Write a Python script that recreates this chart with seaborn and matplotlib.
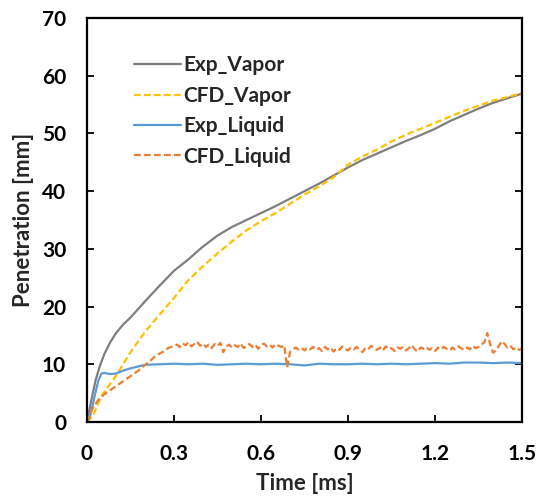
"""
Spray penetration: experiment vs CFD, vapor and liquid.
"""

import numpy as np
import pandas as pd
import matplotlib
matplotlib.use("Agg")
import matplotlib.pyplot as plt
import seaborn as sns

# ---- data ----
t_exp_vapor = [0, 0.01, 0.02, 0.03, 0.045, 0.06, 0.08, 0.1, 0.125, 0.15, 0.175, 0.2,
               0.25, 0.3, 0.35, 0.4, 0.45, 0.5, 0.55, 0.6, 0.65, 0.7, 0.75, 0.8, 0.85,
               0.9, 0.95, 1.0, 1.05, 1.1, 1.15, 1.2, 1.25, 1.3, 1.35, 1.4, 1.45, 1.5]
exp_vapor = [0, 2.5, 5.0, 7.3, 9.8, 11.8, 13.8, 15.4, 16.9, 18.1, 19.5, 20.9,
             23.6, 26.2, 28.2, 30.4, 32.3, 33.8, 35.0, 36.2, 37.4, 38.7, 40.0, 41.3, 42.7,
             44.1, 45.4, 46.5, 47.6, 48.7, 49.7, 50.8, 52.1, 53.2, 54.3, 55.3, 56.1, 56.9]

t_cfd_vapor = [0, 0.02, 0.05, 0.1, 0.15, 0.2, 0.25, 0.3, 0.35, 0.4, 0.45, 0.5, 0.55,
               0.6, 0.65, 0.7, 0.75, 0.8, 0.85, 0.9, 0.95, 1.0, 1.05, 1.1, 1.15, 1.2,
               1.25, 1.3, 1.35, 1.4, 1.45, 1.5]
cfd_vapor = [0, 1.0, 4.5, 8.0, 12.1, 15.6, 18.6, 21.5, 24.6, 27.0, 29.2, 31.3, 33.2,
             34.8, 36.2, 37.8, 39.4, 40.8, 42.4, 44.6, 46.0, 47.2, 48.6, 49.8, 50.8, 51.8,
             52.9, 53.9, 54.8, 55.7, 56.3, 57.0]

t_exp_liquid = [0, 0.01, 0.02, 0.03, 0.04, 0.05, 0.06, 0.08, 0.1, 0.125, 0.15, 0.175,
                0.2, 0.25, 0.3, 0.35, 0.4, 0.45, 0.5, 0.55, 0.6, 0.65, 0.7, 0.75, 0.8,
                0.85, 0.9, 0.95, 1.0, 1.05, 1.1, 1.15, 1.2, 1.25, 1.3, 1.35, 1.4, 1.45, 1.5]
exp_liquid = [0, 0.9, 3.0, 5.3, 7.3, 8.4, 8.5, 8.3, 8.4, 8.9, 9.3, 9.6,
              9.9, 10.0, 10.1, 10.0, 10.1, 9.9, 10.0, 10.1, 10.0, 10.1, 10.0, 9.8, 10.1,
              10.0, 10.0, 10.1, 10.0, 10.1, 10.0, 10.1, 10.2, 10.1, 10.3, 10.3, 10.2, 10.3, 10.2]

t_cfd_liquid_start = [0, 0.01, 0.02, 0.04, 0.06, 0.08, 0.1, 0.12, 0.14, 0.16, 0.18,
                      0.2, 0.22, 0.24, 0.26, 0.28, 0.3]
cfd_liquid_start = [0, 1.3, 2.4, 3.9, 4.8, 5.5, 6.2, 6.9, 7.6, 8.3, 9.0,
                    9.9, 10.7, 11.6, 12.1, 12.8, 13.2]
# 0.31 ... 1.50 ms, every 0.01 ms
cfd_liquid_rest = [
    13.4, 13.0, 13.6, 13.3, 13.8, 13.1, 13.5, 13.9, 13.2, 13.6,
    13.0, 13.4, 12.8, 13.5, 13.2, 13.7, 12.1, 13.1, 13.4, 12.9,
    13.3, 13.0, 13.6, 12.8, 13.2, 13.5, 13.0, 13.4, 12.7, 13.3,
    13.6, 13.1, 13.4, 12.9, 13.5, 13.2, 13.0, 13.3, 9.5,
    12.1, 12.6, 12.9, 12.5, 12.8, 12.4, 12.9, 12.6, 13.0, 12.5,
    12.8, 12.3, 13.0, 12.6, 12.9, 12.2, 12.8, 12.5, 13.1, 12.7,
    12.4, 12.9, 12.6, 13.0, 12.5, 12.1, 12.8, 12.6, 13.2, 12.7,
    12.5, 12.9, 12.4, 13.1, 12.6, 12.8, 12.3, 12.9, 12.7, 13.0,
    12.4, 12.8, 13.3, 12.6, 12.2, 12.9, 12.7, 13.0, 12.5, 12.8,
    12.3, 12.9, 12.6, 13.0, 12.7, 12.4, 12.9, 12.6, 13.1, 12.8,
    12.5, 12.9, 12.6, 13.2, 12.8, 13.0, 13.4, 13.8,
    15.4, 13.5, 12.0, 12.4, 13.2, 14.0, 13.5, 12.9, 13.2, 12.6, 12.9, 12.5, 12.7,
]
t_cfd_liquid_rest = list(np.round(np.arange(31, 151) / 100.0, 2))

x_ticks = [0, 0.3, 0.6, 0.9, 1.2, 1.5]
x_tick_labels = ["0", "0.3", "0.6", "0.9", "1.2", "1.5"]
y_ticks = [0, 10, 20, 30, 40, 50, 60, 70]

series = [
    ("Exp_Vapor", t_exp_vapor, exp_vapor, "#7f7f7f", "-"),
    ("CFD_Vapor", t_cfd_vapor, cfd_vapor, "#ffc000", "--"),
    ("Exp_Liquid", t_exp_liquid, exp_liquid, "#5b9bd5", "-"),
    ("CFD_Liquid", t_cfd_liquid_start + t_cfd_liquid_rest,
     cfd_liquid_start + cfd_liquid_rest, "#ed7d31", "--"),
]

sns.set_style("white")
plt.rcParams["font.family"] = ["Lato", "DejaVu Sans"]
plt.rcParams["font.weight"] = "bold"

fig = plt.figure(figsize=(5.36, 5.01), dpi=100)
ax = fig.add_axes([0.1623, 0.1577, 0.8117, 0.8064])

for name, t, y, color, ls in series:
    df = pd.DataFrame({"t": t, "y": y})
    sns.lineplot(data=df, x="t", y="y", ax=ax, sort=False,
                 color=color, linewidth=1.6, label=name)
    if ls == "--":
        ax.lines[-1].set_dashes((3, 1.5))

ax.set_xlim(0, 1.5)
ax.set_ylim(0, 70)
ax.set_xticks(x_ticks)
ax.set_xticklabels(x_tick_labels)
ax.set_yticks(y_ticks)
ax.set_xlabel("Time [ms]", fontsize=16, fontweight="bold", labelpad=6)
ax.set_ylabel("Penetration [mm]", fontsize=16, fontweight="bold", labelpad=6)

for side in ["left", "bottom", "right", "top"]:
    ax.spines[side].set_visible(True)
    ax.spines[side].set_color("black")
    ax.spines[side].set_linewidth(1.6)

ax.tick_params(axis="both", direction="in", length=5, width=1.3, labelsize=15,
               colors="black")
ax.tick_params(axis="x", pad=16, bottom=True, top=False)
ax.tick_params(axis="y", pad=15, right=True, left=True, labelright=False)
for lbl in ax.get_xticklabels() + ax.get_yticklabels():
    lbl.set_fontweight("bold")

leg = ax.legend(loc="upper left", bbox_to_anchor=(0.083, 0.933), frameon=False,
                handlelength=2.3, handletextpad=0.1, labelspacing=0.5,
                borderpad=0, prop={"weight": "bold", "size": 15})
for txt in leg.get_texts():
    txt.set_fontweight("bold")

fig.savefig("out.png", dpi=100)
